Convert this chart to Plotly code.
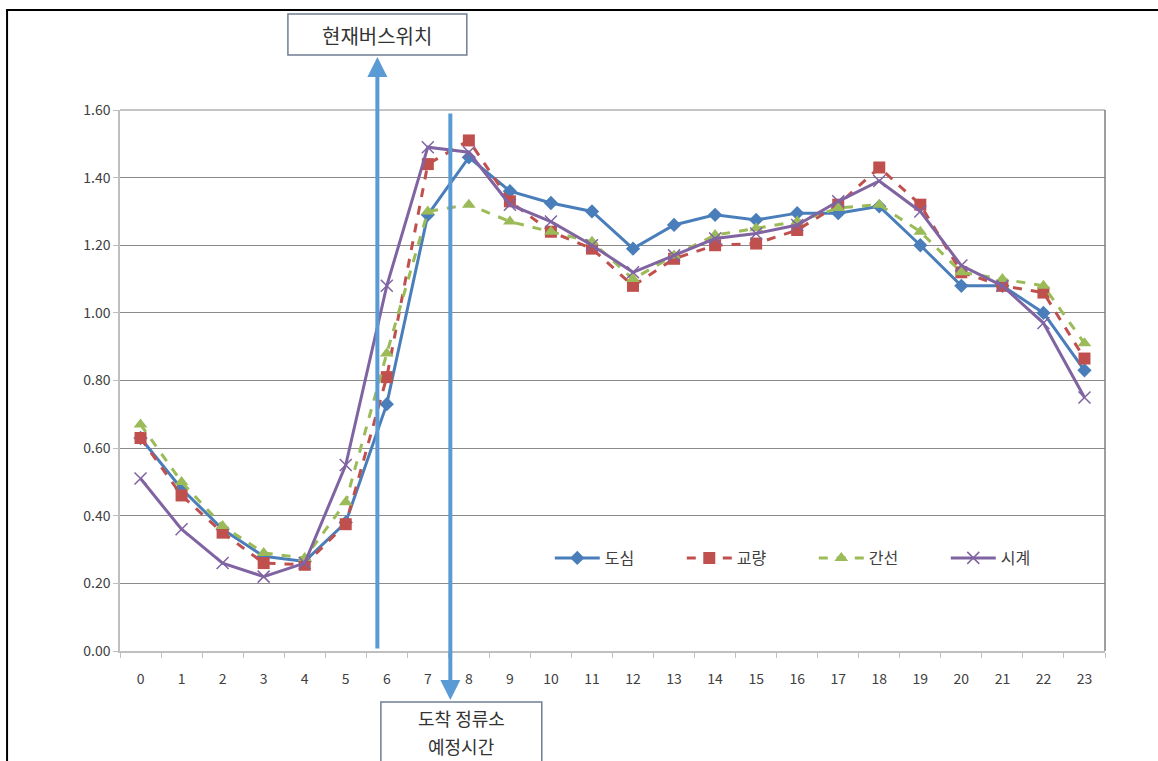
import plotly.graph_objects as go

hours = list(range(24))
hour_labels = [str(h) for h in hours]

dosim = [0.63, 0.48, 0.36, 0.28, 0.265, 0.38, 0.73, 1.29, 1.46, 1.36, 1.325, 1.30,
         1.19, 1.26, 1.29, 1.275, 1.295, 1.295, 1.315, 1.20, 1.08, 1.08, 1.00, 0.83]
gyoryang = [0.63, 0.46, 0.35, 0.26, 0.255, 0.375, 0.81, 1.44, 1.51, 1.33, 1.24, 1.19,
            1.08, 1.16, 1.20, 1.205, 1.245, 1.32, 1.43, 1.32, 1.12, 1.08, 1.06, 0.865]
ganseon = [0.67, 0.50, 0.37, 0.29, 0.275, 0.44, 0.88, 1.30, 1.32, 1.27, 1.24, 1.21,
           1.10, 1.17, 1.23, 1.25, 1.27, 1.31, 1.32, 1.24, 1.12, 1.10, 1.08, 0.91]
sigye = [0.51, 0.36, 0.26, 0.22, 0.26, 0.55, 1.08, 1.49, 1.475, 1.32, 1.27, 1.20,
         1.12, 1.17, 1.22, 1.235, 1.26, 1.33, 1.39, 1.30, 1.14, 1.08, 0.97, 0.75]

series_names = ["도심", "교량", "간선", "시계"]
y_ticks = [0.0, 0.2, 0.4, 0.6, 0.8, 1.0, 1.2, 1.4, 1.6]

W, H = 1158, 761
L, R, T, B = 120, 1105.5, 110, 651

def px(x):
    return (x - L) / (R - L)

def py(y):
    return (B - y) / (B - T)

FONT = "Noto Sans CJK KR, Noto Sans, sans-serif"
ARROW = "#5b9bd5"

fig = go.Figure()
fig.add_trace(go.Scatter(x=hours, y=dosim, name=series_names[0], mode="lines+markers",
                         line=dict(color="#4a7ebb", width=3),
                         marker=dict(symbol="diamond", size=11, color="#4a7ebb")))
fig.add_trace(go.Scatter(x=hours, y=gyoryang, name=series_names[1], mode="lines+markers",
                         line=dict(color="#c0504d", width=3, dash="dash"),
                         marker=dict(symbol="square", size=12, color="#c0504d")))
fig.add_trace(go.Scatter(x=hours, y=ganseon, name=series_names[2], mode="lines+markers",
                         line=dict(color="#9bbb59", width=3, dash="dash"),
                         marker=dict(symbol="triangle-up", size=12, color="#9bbb59")))
fig.add_trace(go.Scatter(x=hours, y=sigye, name=series_names[3], mode="lines+markers",
                         line=dict(color="#8064a2", width=3),
                         marker=dict(symbol="x-thin", size=12,
                                     line=dict(color="#8064a2", width=1.5))))

shapes = [
    # outer frame
    dict(type="rect", xref="paper", yref="paper", x0=px(7), x1=px(1165), y0=py(768), y1=py(10),
         line=dict(color="black", width=2), layer="below"),
    # plot area top & right border
    dict(type="line", xref="paper", yref="paper", x0=0, x1=1, y0=1, y1=1,
         line=dict(color="#8a8a8a", width=1)),
    dict(type="line", xref="paper", yref="paper", x0=1, x1=1, y0=0, y1=1,
         line=dict(color="#7f7f7f", width=1.5)),
    # boxes
    dict(type="rect", xref="paper", yref="paper", x0=px(288), x1=px(467), y0=py(55), y1=py(14),
         line=dict(color="#6f7f94", width=1.5), fillcolor="white"),
    dict(type="rect", xref="paper", yref="paper", x0=px(381), x1=px(542), y0=py(775), y1=py(702),
         line=dict(color="#6f7f94", width=1.5), fillcolor="white"),
]

annotations = [
    dict(x=px(377.5), y=py(57), xref="paper", yref="paper", ax=0, ay=593, text="",
         showarrow=True, arrowhead=2, arrowsize=1, arrowwidth=4, arrowcolor=ARROW, standoff=0),
    dict(x=px(450.5), y=py(700), xref="paper", yref="paper", ax=0, ay=-588, text="",
         showarrow=True, arrowhead=2, arrowsize=1, arrowwidth=4, arrowcolor=ARROW, standoff=0),
    dict(x=px(377.5), y=py(35), xref="paper", yref="paper", text="현재버스위치",
         xanchor="center", yanchor="middle",
         showarrow=False, font=dict(family=FONT, size=20, color="#333333")),
    dict(x=px(461.5), y=py(718), xref="paper", yref="paper", text="도착 정류소",
         xanchor="center", yanchor="middle",
         showarrow=False, font=dict(family=FONT, size=18, color="#333333")),
    dict(x=px(461.5), y=py(746), xref="paper", yref="paper", text="예정시간",
         xanchor="center", yanchor="middle",
         showarrow=False, font=dict(family=FONT, size=18, color="#333333")),
]

fig.update_layout(
    width=W, height=H,
    margin=dict(l=L, r=W - R, t=T, b=H - B),
    paper_bgcolor="white", plot_bgcolor="white",
    font=dict(family=FONT, color="#404040", size=14),
    showlegend=True,
    legend=dict(orientation="h", x=px(550), y=py(558), xanchor="left", yanchor="middle",
                font=dict(family=FONT, size=16, color="#404040"),
                bgcolor="rgba(0,0,0,0)", entrywidth=72, entrywidthmode="pixels",
                itemwidth=45),
    xaxis=dict(range=[-0.5, 23.5], tickvals=hours, ticktext=hour_labels, ticks="",
               showgrid=False, zeroline=False, showline=True, linecolor="#bfbfbf", linewidth=1.5,
               tickfont=dict(size=14, color="#404040"), ticklabelstandoff=14,
               minor=dict(ticks="outside", tick0=-0.5, dtick=1, ticklen=5, tickcolor="#bfbfbf",
                          showgrid=False)),
    yaxis=dict(range=[0, 1.6], tickvals=y_ticks, tickformat=".2f", ticks="outside", ticklen=5,
               tickcolor="#bfbfbf", showgrid=True, gridcolor="#8a8a8a", gridwidth=1,
               zeroline=False, showline=True, linecolor="#bfbfbf", linewidth=1.5,
               tickfont=dict(size=14, color="#404040")),
    shapes=shapes,
    annotations=annotations,
)

fig.write_html("out.html", config={"displayModeBar": False},
               post_script="document.body.style.margin='0';")
